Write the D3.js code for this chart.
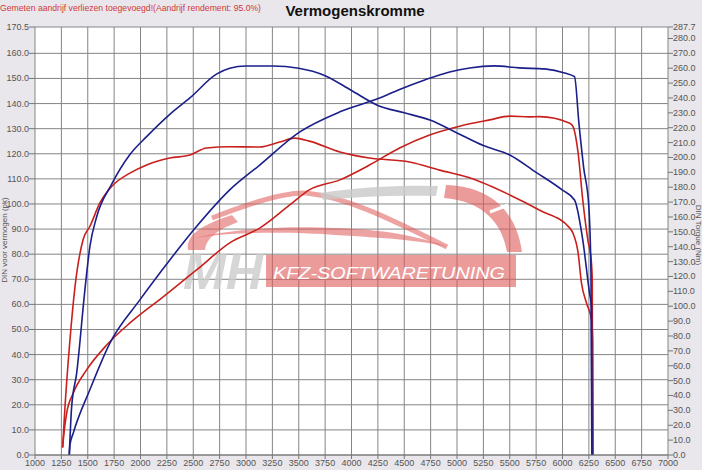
<!DOCTYPE html>
<html><head><meta charset="utf-8">
<script src="https://cdn.jsdelivr.net/npm/d3@7"></script>
<style>body{margin:0;background:#e9e7eb;}svg{display:block;}</style>
</head><body>
<svg id="c" width="702" height="470"></svg>
<script>
// ---- data (power in pk on left axis, torque in Nm on right axis) ----
const xTicks = d3.range(1000, 7001, 250);
const leftTicks = [0,10,20,30,40,50,60,70,80,90,100,110,120,130,140,150,160,170.5];
const rightTicks = [0,10,20,30,40,50,60,70,80,90,100,110,120,130,140,150,160,170,180,190,200,210,220,230,240,250,260,270,280,287.7];

const bluePowerRpm = [1325,1331,1363,1520,1710,1994,2278,2531,2846,3130,3510,3890,4267,4456,4700,4930,5120,5355,5590,5830,6020,6114,6156,6200,6250,6270,6278];
const bluePower    = [0,4,8.8,26,44.6,61.8,77.7,91,105.6,115.5,128.7,136.7,142.2,145.6,149.5,152.6,154.2,155,154.2,153.8,152.2,150.7,132,114.7,98.8,72.5,0];

const blueTorqueRpm = [1325,1347,1395,1473,1520,1584,1726,1900,2058,2278,2468,2720,2846,3000,3250,3500,3750,4000,4250,4500,4750,5000,5250,5500,5750,6000,6114,6192,6256,6275,6280];
const blueTorque    = [0,32,55,111,140,160,182,202,214,229,240,256,260,261.5,261.5,260,255,245,235,230,225,216.5,208,201.7,190,178,171.4,144.6,108.8,99.6,0];

const redPowerRpm = [1262,1268,1300,1363,1489,1679,1900,2215,2531,2846,3130,3415,3600,3890,4170,4456,4740,5025,5310,5500,5690,5782,6070,6100,6148,6192,6240,6272,6282,6286];
const redPower    = [3,6,16.7,24.7,33.9,43.8,52.6,63,73.7,84.5,90.4,99.6,105.6,109.6,115.5,122.3,127.5,131,133.5,135,134.7,134.8,132.2,130.8,120.3,101.6,85.7,77.7,69.7,0];

const redTorqueRpm = [1262,1284,1331,1379,1457,1520,1615,1726,1900,2058,2278,2468,2626,2846,3130,3320,3460,3600,3890,4170,4550,4835,5120,5500,5780,6070,6100,6148,6180,6228,6275,6286,6290];
const redTorque    = [5,32,77,113,145,153.6,169.4,180.5,189.5,195,199.6,201.6,206.4,207.2,207,210.4,213,211,203.7,199.6,197,191.5,186.3,174.8,164.7,152.5,149,135.8,115.6,102,90.8,77.3,0];

// ---- layout ----
const svg = d3.select('#c');
const L = 35, R = 668, T = 27, B = 455;
const x = d3.scaleLinear().domain([1000,7000]).range([L,R]);
const yL = d3.scaleLinear().domain([0,170.5]).range([B,T]);
const yR = d3.scaleLinear().domain([0,287.7]).range([B,T]);
const font = 'Liberation Sans, Arial, sans-serif';

svg.append('rect').attr('width',702).attr('height',470).attr('fill','#e9e7eb');
svg.append('rect').attr('x',L).attr('y',T).attr('width',R-L).attr('height',B-T).attr('fill','#ffffff');

// grid
const grid = svg.append('g').attr('stroke','#858585').attr('stroke-width',1);
grid.selectAll('.v').data(xTicks).join('line')
  .attr('x1',d=>x(d)).attr('x2',d=>x(d)).attr('y1',T).attr('y2',B);
grid.selectAll('.h').data(leftTicks).join('line')
  .attr('x1',L).attr('x2',R).attr('y1',d=>yL(d)).attr('y2',d=>yL(d));

// watermark
const wm = svg.append('g');
const red = '#e05858';
wm.append('path').attr('d','M188,250 C186,236 198,226 232,215 L238,222 C214,231 206,240 205,250 Z').attr('fill',red).attr('opacity',0.55);
wm.append('path').attr('d','M212,218 C250,203 285,192 306,193 C345,197 385,216 447,247').attr('fill','none').attr('stroke',red).attr('stroke-width',5).attr('opacity',0.55);
wm.append('path').attr('d','M195,238 C235,231 300,232 335,235 C385,238 420,240 447,247 C420,236 380,229 335,228 C290,226 235,228 195,238 Z').attr('fill',red).attr('opacity',0.55);
wm.append('path').attr('d','M320,193 C360,187 400,185 438,186 L436,196 C400,195 362,196 323,200 Z').attr('fill','#c9c9c9').attr('opacity',0.8);
wm.append('path').attr('d','M446,185 C487,186 516,208 522,252 L507,252 C502,222 482,201 444,198 Z').attr('fill',red).attr('opacity',0.6);
wm.append('line').attr('x1',490).attr('y1',212).attr('x2',508).attr('y2',205).attr('stroke','#fff').attr('stroke-width',3);
wm.append('text').attr('x',183).attr('y',289).attr('font-family',font).attr('font-weight','bold').attr('font-style','italic')
  .attr('font-size',50).attr('fill','#cccccc').attr('opacity',0.8).attr('textLength',80).attr('lengthAdjust','spacingAndGlyphs').text('MH');
wm.append('rect').attr('x',266).attr('y',255).attr('width',250).attr('height',32).attr('fill',red).attr('opacity',0.6);
wm.append('text').attr('x',273).attr('y',278.5).attr('font-family',font).attr('font-style','italic')
  .attr('font-size',17).attr('fill','#ffffff').attr('textLength',232).attr('lengthAdjust','spacingAndGlyphs').text('KFZ-SOFTWARETUNING');

// curves
function series(rpms, vals, yScale, color){
  const pts = rpms.map((r,i)=>[r, vals[i]]);
  const line = d3.line().x(d=>x(d[0])).y(d=>yScale(d[1])).curve(d3.curveMonotoneX);
  svg.append('path').datum(pts).attr('d',line).attr('fill','none')
    .attr('stroke',color).attr('stroke-width',1.6).attr('stroke-linejoin','round');
}
series(redPowerRpm, redPower, yL, '#c8201c');
series(redTorqueRpm, redTorque, yR, '#c8201c');
series(bluePowerRpm, bluePower, yL, '#1b1f8a');
series(blueTorqueRpm, blueTorque, yR, '#1b1f8a');

// axes
const ax = svg.append('g').attr('font-family',font).attr('font-size',9).attr('fill','#555');
const tk = svg.append('g').attr('stroke','#777').attr('stroke-width',1);
tk.selectAll('.lt').data(leftTicks).join('line').attr('x1',L-6).attr('x2',L).attr('y1',d=>yL(d)).attr('y2',d=>yL(d));
ax.selectAll('.ll').data(leftTicks).join('text').attr('x',L-6).attr('y',d=>yL(d)+3).attr('text-anchor','end')
  .text(d=>d.toFixed(1));
tk.selectAll('.rt').data(rightTicks).join('line').attr('x1',R).attr('x2',R+5).attr('y1',d=>yR(d)).attr('y2',d=>yR(d));
ax.selectAll('.rl').data(rightTicks).join('text').attr('x',R+5).attr('y',d=>yR(d)+3)
  .text(d=>d.toFixed(1));
tk.selectAll('.bt').data(xTicks).join('line').attr('x1',d=>x(d)).attr('x2',d=>x(d)).attr('y1',B).attr('y2',B+4);
ax.selectAll('.bl').data(xTicks).join('text').attr('x',d=>x(d)).attr('y',466).attr('text-anchor','middle')
  .text(d=>d);
svg.append('line').attr('x1',L).attr('x2',R).attr('y1',B).attr('y2',B).attr('stroke','#777');

// axis titles
svg.append('text').attr('transform','translate(7,240) rotate(-90)').attr('text-anchor','middle')
  .attr('font-family',font).attr('font-size',8).attr('fill','#555').text('DIN voor vermogen (pk)');
svg.append('text').attr('transform','translate(696,235) rotate(90)').attr('text-anchor','middle')
  .attr('font-family',font).attr('font-size',8).attr('fill','#555').text('DIN Torque (Nm)');

// titles
svg.append('text').attr('x',355).attr('y',16).attr('text-anchor','middle').attr('font-family',font)
  .attr('font-weight','bold').attr('font-size',15).attr('fill','#111').text('Vermogenskromme');
svg.append('text').attr('x',0).attr('y',11).attr('font-family',font).attr('font-size',9).attr('fill','#d03838')
  .attr('textLength',261).attr('lengthAdjust','spacingAndGlyphs')
  .text('Gemeten aandrijf verliezen toegevoegd!(Aandrijf rendement: 95.0%)');
</script>
</body></html>
